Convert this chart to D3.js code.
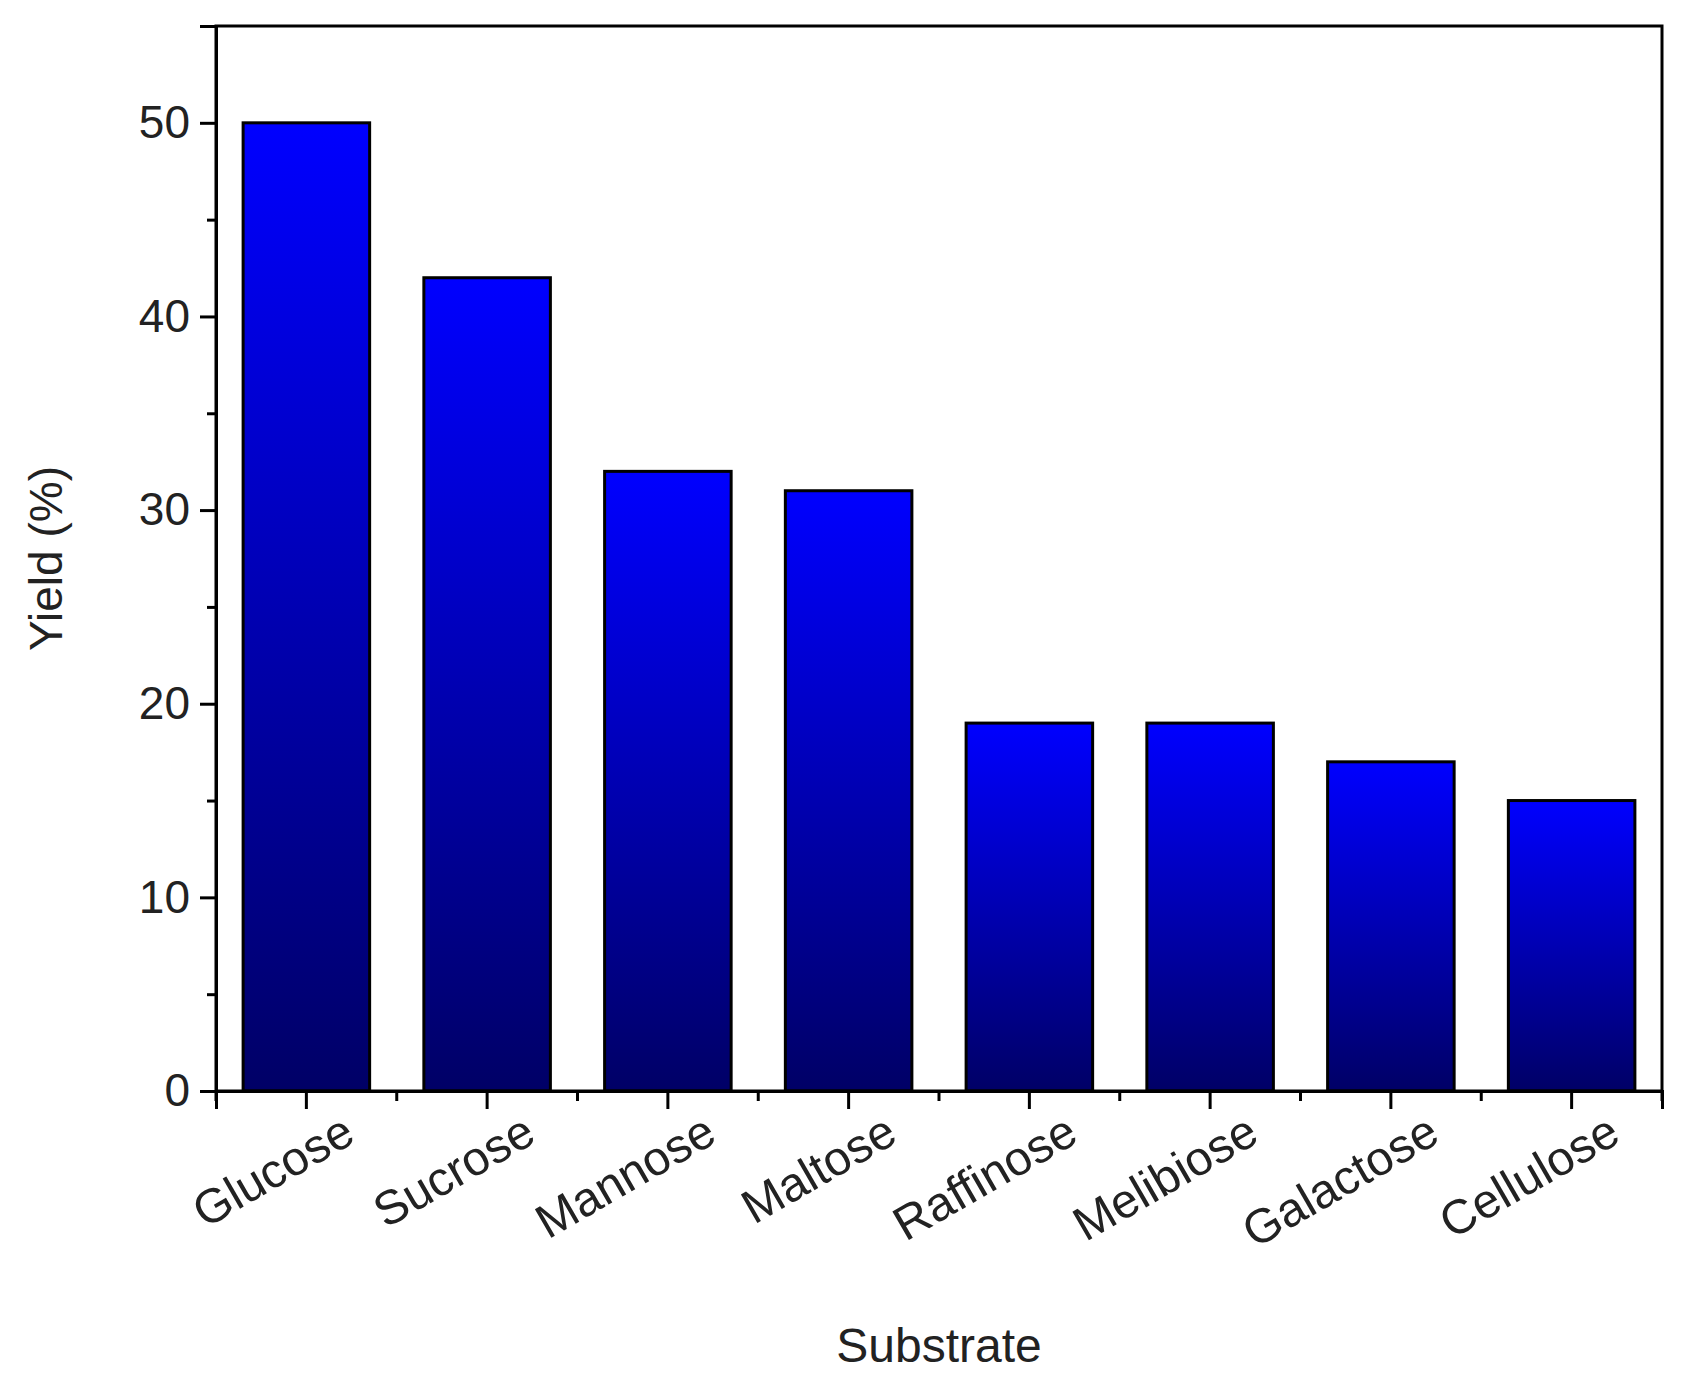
<!DOCTYPE html><html><head><script src="https://cdn.jsdelivr.net/npm/d3@7"></script>
<style>body{margin:0;background:#fff}text{font-family:"Liberation Sans",Arial,sans-serif;fill:#222}</style></head><body>
<svg id="c" width="1683" height="1378"></svg>
<script>
const categories=["Glucose","Sucrose","Mannose","Maltose","Raffinose","Melibiose","Galactose","Cellulose"];
const yields=[50,42,32,31,19,19,17,15];
const yTicks=[0,10,20,30,40,50];
const L=216,R=1662,T=26,B=1091;
const svg=d3.select("#c");
const defs=svg.append("defs");
const g=defs.append("linearGradient").attr("id","gr").attr("x1",0).attr("y1",0).attr("x2",0).attr("y2",1);
g.append("stop").attr("offset","0%").attr("stop-color","#0000ff");
g.append("stop").attr("offset","100%").attr("stop-color","#000066");
const x=d3.scaleBand().domain(categories).range([L,R]).paddingInner(0.3).paddingOuter(0.15);
const y=d3.scaleLinear().domain([0,55]).range([B,T]);
svg.selectAll("rect.b").data(yields).join("rect").attr("class","b")
 .attr("x",(d,i)=>x(categories[i])).attr("width",x.bandwidth())
 .attr("y",d=>y(d)).attr("height",d=>B-y(d))
 .attr("fill","url(#gr)").attr("stroke","#000").attr("stroke-width",3);
svg.append("rect").attr("x",L).attr("y",T).attr("width",R-L).attr("height",B-T).attr("fill","none").attr("stroke","#000").attr("stroke-width",3);
const ya=svg.append("g").attr("transform",`translate(${L},0)`).call(d3.axisLeft(y).tickValues(yTicks).tickSize(16).tickPadding(10));
ya.selectAll("text").style("font-size","46px");
svg.append("g").attr("transform",`translate(${L},0)`).call(d3.axisLeft(y).tickValues(d3.range(5,55,10)).tickSize(9).tickFormat(""));
const xa=svg.append("g").attr("transform",`translate(0,${B})`).call(d3.axisBottom(x).tickSize(18).tickPadding(10));
xa.selectAll("text").style("font-size","48px").attr("text-anchor","end").attr("transform","rotate(-30)").attr("dx","0.4em").attr("dy","0.85em");
const step=x.step();
const minor=categories.map(c=>x(c)+x.bandwidth()/2+step/2);
minor.unshift(x(categories[0])+x.bandwidth()/2-step/2);
svg.selectAll("line.m").data(minor).join("line").attr("x1",d=>d).attr("x2",d=>d).attr("y1",B).attr("y2",B+10).attr("stroke","#000").attr("stroke-width",3);
svg.selectAll(".domain").attr("stroke-width",3);
svg.selectAll(".tick line").attr("stroke-width",3);
svg.append("text").attr("x",(L+R)/2).attr("y",1362).attr("text-anchor","middle").style("font-size","48px").text("Substrate");
svg.append("text").attr("transform",`translate(62,${(T+B)/2}) rotate(-90)`).attr("text-anchor","middle").style("font-size","46px").text("Yield (%)");
</script></body></html>
